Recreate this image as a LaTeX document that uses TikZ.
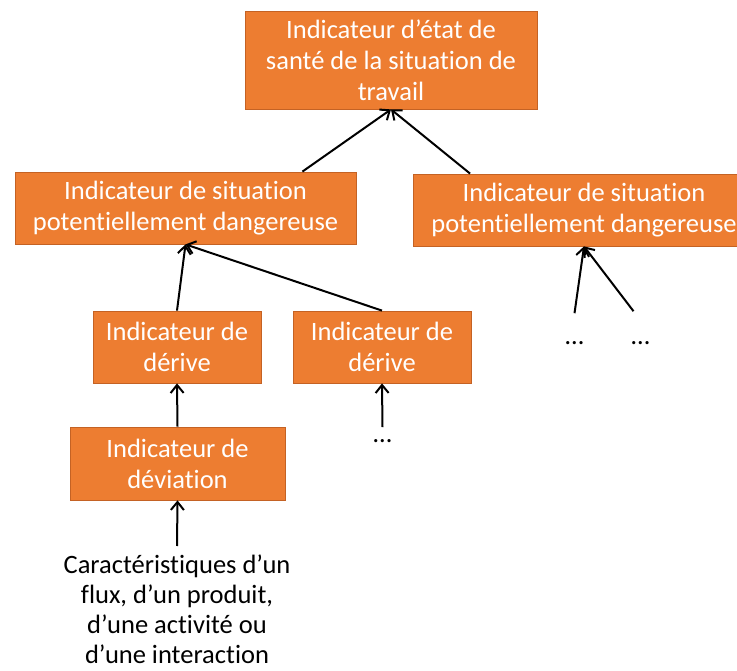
\documentclass[tikz,border=0pt]{standalone}
\usepackage{fontspec}
\setmainfont{Carlito}[Ligatures=NoCommon]
\usetikzlibrary{arrows.meta}
\definecolor{boxorange}{RGB}{237,125,49}
\definecolor{boxedge}{RGB}{196,98,36}

\begin{document}
\begin{tikzpicture}[x=1pt,y=-1pt,
    indic/.style={draw=boxedge,fill=boxorange,text=white,line width=0.8pt,align=center,inner sep=0pt,font=\fontsize{26.5}{31}\selectfont},
    dots/.style={inner sep=0pt,font=\fontsize{26.5}{31}\selectfont},
    link/.style={-{Straight Barb[length=8pt,width=13pt]},line width=2pt}]
    \clip (0,0) rectangle (737,671);

    \node[indic,minimum width=292pt,minimum height=98pt] (etat) at (391,60) {Indicateur d’état de\\santé de la situation de\\travail};
    \node[indic,minimum width=341pt,minimum height=72pt] (psdL) at (185.5,208) {Indicateur de situation\\potentiellement dangereuse};
    \node[indic,minimum width=341pt,minimum height=72pt] (psdR) at (584,210) {Indicateur de situation\\potentiellement dangereuse};
    \node[indic,minimum width=168pt,minimum height=72pt] (der1) at (177,347) {Indicateur de\\dérive};
    \node[indic,minimum width=178pt,minimum height=72pt] (der2) at (382,347) {Indicateur de\\dérive};
    \node[indic,minimum width=215pt,minimum height=73pt] (devi) at (177.5,463.5) {Indicateur de\\déviation};
    \node[anchor=north,align=center,inner xsep=0pt,inner ysep=9pt,font=\fontsize{26.5}{30}\selectfont] (txt) at (177,546) {Caractéristiques d’un\\flux, d’un produit,\\d’une activité ou\\d’une interaction};

    \node[dots] (dD2) at (382.5,441) {…};
    \node[dots] (dR1) at (574.5,343) {…};
    \node[dots] (dR2) at (640.5,343) {…};

    \draw[link] ([xshift=-54pt]psdL.north east) -- (etat.south);
    \draw[link] ([xshift=57pt]psdR.north west) -- (etat.south);
    \draw[link] (der1.north) -- (psdL.south);
    \draw[link] (der2.north) -- (psdL.south);
    \draw[link] (devi.north) -- (der1.south);
    \draw[link] ([yshift=12pt]dD2.north) -- (der2.south);
    \draw[link] (txt.north) -- (devi.south);
    \draw[link] ([yshift=28pt]dR1.north) -- (psdR.south);
    \draw[link] ([xshift=-7pt,yshift=30pt]dR2.north) -- (psdR.south);
\end{tikzpicture}
\end{document}
